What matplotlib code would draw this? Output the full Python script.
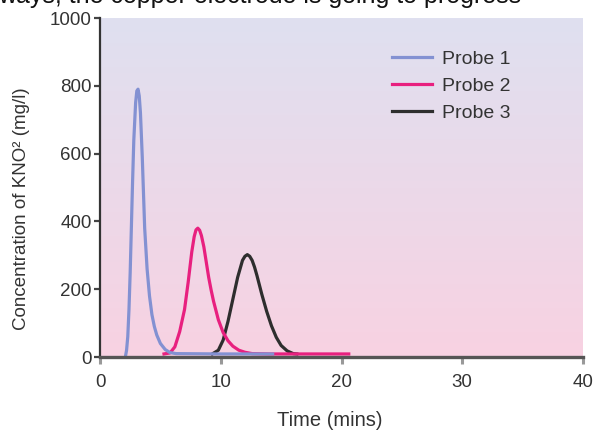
import numpy as np
import matplotlib
matplotlib.use("Agg")
import matplotlib.pyplot as plt
from matplotlib.colors import LinearSegmentedColormap

plt.rcParams['font.family'] = ['Liberation Sans', 'DejaVu Sans']

# ---- data ----
probe1_t = [2.1, 2.2, 2.3, 2.4, 2.5, 2.6, 2.7, 2.8, 2.95, 3.05, 3.15, 3.25, 3.35, 3.5,
            3.7, 3.9, 4.1, 4.3, 4.5, 4.7, 5.0, 5.4, 5.8, 6.3, 10.0, 14.3]
probe1_v = [0, 20, 60, 140, 250, 385, 520, 640, 750, 785, 790, 770, 720, 590,
            380, 260, 180, 125, 90, 65, 40, 22, 13, 10, 9, 9]

probe2_t = [5.3, 5.8, 6.2, 6.6, 7.0, 7.3, 7.6, 7.8, 7.95, 8.1, 8.25, 8.4, 8.6, 8.8,
            9.0, 9.2, 9.4, 9.8, 10.2, 10.6, 11.0, 11.5, 12.0, 12.6, 14.0, 20.6]
probe2_v = [9, 12, 30, 75, 140, 220, 310, 355, 375, 380, 374, 358, 325, 280,
            235, 198, 165, 110, 72, 48, 32, 20, 14, 10, 9, 9]

probe3_t = [9.3, 9.8, 10.2, 10.6, 11.0, 11.4, 11.8, 12.0, 12.2, 12.4, 12.6, 12.8, 13.0,
            13.4, 13.8, 14.2, 14.6, 15.0, 15.5, 16.0, 16.3]
probe3_v = [9, 20, 50, 105, 170, 235, 285, 297, 302, 297, 285, 265, 240,
            185, 135, 92, 58, 34, 18, 10, 9]

series_names = ["Probe 1", "Probe 2", "Probe 3"]
series_colors = ["#8391d2", "#e8207f", "#2e2e2e"]

x_ticks = [0, 10, 20, 30, 40]
y_ticks = [0, 200, 400, 600, 800, 1000]

# ---- figure ----
W, H = 594, 433
fig = plt.figure(figsize=(W / 100, H / 100), dpi=100)
ax = fig.add_axes([100 / W, 1 - 357 / H, (583 - 100) / W, (357 - 18) / H])

# background gradient (lavender top -> pink bottom)
cmap = LinearSegmentedColormap.from_list("bg", ["#f8d2e2", "#dfe0f0"])
grad = np.linspace(0, 1, 256).reshape(-1, 1)
ax.imshow(grad, cmap=cmap, origin="lower", aspect="auto",
          extent=[0, 40, 0, 1000], zorder=0)

lw = 2.3
l3, = ax.plot(probe3_t, probe3_v, color=series_colors[2], lw=lw, zorder=3,
              solid_joinstyle="round", label=series_names[2])
l2, = ax.plot(probe2_t, probe2_v, color=series_colors[1], lw=lw, zorder=4,
              solid_joinstyle="round", label=series_names[1])
l1, = ax.plot(probe1_t, probe1_v, color=series_colors[0], lw=lw, zorder=5,
              solid_joinstyle="round", label=series_names[0])

ax.set_xlim(0, 40)
ax.set_ylim(0, 1000)
ax.set_xticks(x_ticks)
ax.set_yticks(y_ticks)
ax.set_xticklabels([str(v) for v in x_ticks])
ax.set_yticklabels([str(v) for v in y_ticks])

for s in ["top", "right"]:
    ax.spines[s].set_visible(False)
ax.spines["left"].set_color("#333333")
ax.spines["left"].set_linewidth(1.6)
ax.spines["bottom"].set_color("#555555")
ax.spines["bottom"].set_linewidth(2.4)
ax.spines["bottom"].set_zorder(6)

ax.tick_params(axis="y", direction="out", length=4, width=1.6, color="#444444",
               labelsize=13.5, labelcolor="#333333", pad=2)
ax.tick_params(axis="x", direction="out", length=5, width=2.2, color="#999999",
               labelsize=13.5, labelcolor="#333333", pad=7)

fig.text(22 / W, 1 - 209 / H, "Concentration of KNO² (mg/l)", rotation=90,
         ha="center", va="center", fontsize=13.5, color="#333333")
fig.text(330 / W, 1 - 420 / H, "Time (mins)", ha="center", va="center",
         fontsize=14.5, color="#333333")

# legend
fs = 14
fpx = fs * 100 / 72
leg = ax.legend(handles=[l1, l2, l3], labels=series_names, loc="upper left",
                bbox_to_anchor=(392 / W, 1 - 50 / H), bbox_transform=fig.transFigure,
                frameon=False, fontsize=fs, handlelength=40 / fpx,
                handletextpad=10 / fpx, labelspacing=(29 - fpx) / fpx,
                borderpad=0, borderaxespad=0)
for t in leg.get_texts():
    t.set_color("#333333")

# clipped line of body text above the chart (only its lower edge shows)
fig.text(-2 / W, 1 - 2.5 / H, "ways, the copper electrode is going to progress",
         ha="left", va="baseline", fontsize=18, color="#111111")

fig.savefig("out.png", dpi=100)
